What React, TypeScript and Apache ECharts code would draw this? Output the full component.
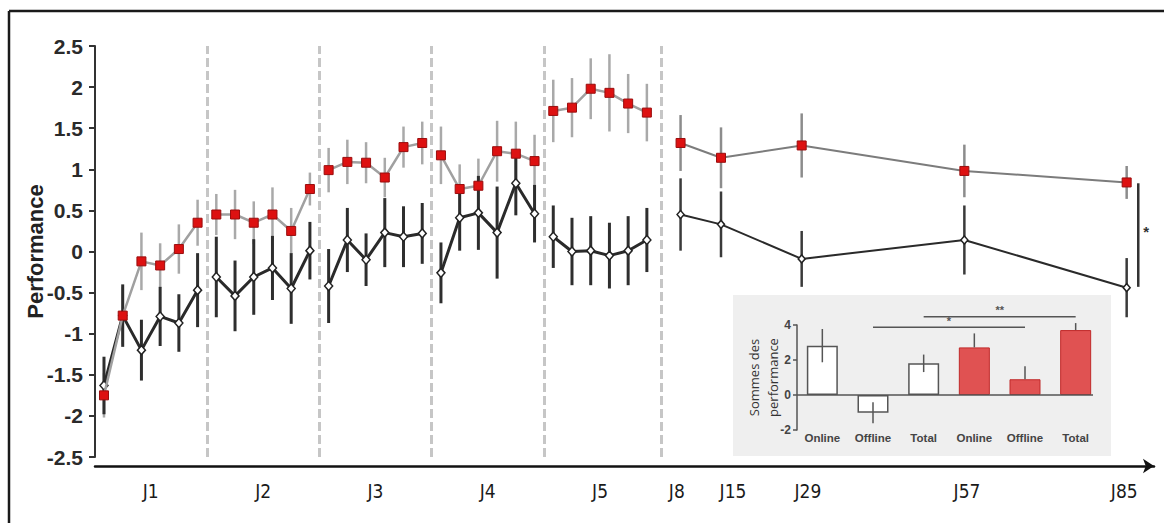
import React, { useEffect, useRef } from 'react';
import * as echarts from 'echarts';

// ---------- Main chart data ----------
// Training: 5 days (J1–J5), 6 blocks per day, block index 0..29
const trainDays = ['J1', 'J2', 'J3', 'J4', 'J5'];
const blocksPerDay = 6;
const redTrainMean = [
  -1.75, -0.78, -0.12, -0.17, 0.03, 0.35,
  0.45, 0.45, 0.35, 0.45, 0.25, 0.76,
  0.99, 1.09, 1.08, 0.9, 1.27, 1.32,
  1.17, 0.76, 0.8, 1.22, 1.19, 1.1,
  1.71, 1.75, 1.98, 1.93, 1.8, 1.69,
];
const redTrainErr = [
  0.27, 0.35, 0.35, 0.27, 0.3, 0.28,
  0.25, 0.3, 0.26, 0.33, 0.28, 0.2,
  0.27, 0.27, 0.25, 0.24, 0.25, 0.26,
  0.35, 0.3, 0.33, 0.37, 0.39, 0.32,
  0.38, 0.36, 0.37, 0.47, 0.36, 0.35,
];
const darkTrainMean = [
  -1.63, -0.78, -1.2, -0.79, -0.87, -0.47,
  -0.31, -0.54, -0.31, -0.2, -0.45, 0.01,
  -0.42, 0.14, -0.1, 0.23, 0.18, 0.22,
  -0.26, 0.41, 0.47, 0.23, 0.83, 0.46,
  0.18, 0.0, 0.01, -0.05, 0.01, 0.14,
];
const darkTrainErr = [
  0.35, 0.38, 0.37, 0.36, 0.35, 0.45,
  0.49, 0.43, 0.46, 0.39, 0.43, 0.35,
  0.45, 0.39, 0.32, 0.42, 0.37, 0.37,
  0.37, 0.4, 0.45, 0.56, 0.39, 0.35,
  0.38, 0.41, 0.42, 0.4, 0.42, 0.39,
];
// Follow-up sessions
const followDays = ['J8', 'J15', 'J29', 'J57', 'J85'];
const followPos = [30.8, 32.96, 37.27, 45.96, 54.63];
const redFollowMean = [1.32, 1.14, 1.29, 0.98, 0.84];
const redFollowErr = [0.34, 0.37, 0.39, 0.32, 0.2];
const darkFollowMean = [0.45, 0.33, -0.09, 0.14, -0.44];
const darkFollowErr = [0.44, 0.4, 0.34, 0.42, 0.36];

const dayBoundaries = [5.5, 11.5, 17.5, 23.5, 29.75];
const dayLabels = ['J1', 'J2', 'J3', 'J4', 'J5', ...followDays];
const dayLabelPos = [2.5, 8.5, 14.5, 20.5, 26.5, 30.6, 33.6, 37.6, 46.1, 54.5];

// Significance bracket at J85
const sigBracket = { x: 55.25, top: 0.83, bottom: -0.43, label: '*' };

// ---------- Inset data ----------
const insetCats = ['Online', 'Offline', 'Total', 'Online', 'Offline', 'Total'];
const insetMeans = [2.82, -1.01, 1.81, 2.72, 0.9, 3.71];
const insetErrs = [0.95, 0.6, 0.5, 0.8, 0.75, 0.4];
const insetRed = [false, false, false, true, true, true];
const insetSigFrom = [1, 2];
const insetSigTo = [4, 5];
const insetSigY = [3.87, 4.47];
const insetSigLabel = ['*', '**'];

const ARIAL = "'Liberation Sans', Arial, Helvetica, sans-serif";
const NARROW = "'Liberation Sans Narrow', 'DejaVu Sans Condensed', 'Liberation Sans', sans-serif";

function trainLine(means: number[]) {
  const out: any[] = [];
  for (let d = 0; d < trainDays.length; d++) {
    for (let k = 0; k < blocksPerDay; k++) {
      const i = d * blocksPerDay + k;
      out.push([i, means[i]]);
    }
    if (d < trainDays.length - 1) out.push([d * blocksPerDay + 5.5, '-']);
  }
  return out;
}

function errSeries(xs: number[], means: number[], errs: number[], color: string, width: number, z: number) {
  return {
    type: 'custom',
    xAxisIndex: 0,
    yAxisIndex: 0,
    z,
    silent: true,
    data: xs.map((x, i) => [x, means[i] - errs[i], means[i] + errs[i]]),
    encode: { x: 0, y: [1, 2] },
    renderItem: (_p: any, api: any) => {
      const a = api.coord([api.value(0), api.value(1)]);
      const b = api.coord([api.value(0), api.value(2)]);
      return {
        type: 'line',
        shape: { x1: a[0], y1: a[1], x2: b[0], y2: b[1] },
        style: { stroke: color, lineWidth: width },
      };
    },
  };
}

export default function App() {
  const ref = useRef<HTMLDivElement>(null);
  useEffect(() => {
    if (!ref.current) return;
    const chart = echarts.init(ref.current, null, { renderer: 'svg' });
    const trainX = redTrainMean.map((_, i) => i);

    const redSquare = {
      symbol: 'rect',
      symbolSize: 9,
      itemStyle: { color: '#dd1111', borderColor: '#9a0d0d', borderWidth: 1 },
    };
    const darkDiamond = {
      symbol: 'diamond',
      symbolSize: [8, 9],
      itemStyle: { color: '#ffffff', borderColor: '#222222', borderWidth: 1.5 },
    };

    const option: any = {
      animation: false,
      backgroundColor: '#ffffff',
      graphic: [
        { type: 'line', shape: { x1: 9, y1: 11, x2: 1164, y2: 11 }, style: { stroke: '#1a1a1a', lineWidth: 2.5 }, z: 1 },
        { type: 'line', shape: { x1: 9, y1: 11, x2: 9, y2: 523 }, style: { stroke: '#1a1a1a', lineWidth: 2.5 }, z: 1 },
        { type: 'rect', shape: { x: 733, y: 295, width: 378, height: 161 }, style: { fill: '#efefef' }, z: 0 },
      ],
      grid: [
        { left: 95, top: 46, width: 1059, height: 411, outerBoundsMode: 'none' },
        { left: 797, top: 325, width: 304, height: 105, outerBoundsMode: 'none' },
      ],
      xAxis: [
        {
          type: 'value',
          gridIndex: 0,
          min: -0.48,
          max: 56.09,
          offset: 9,
          splitLine: { show: false },
          axisTick: { show: false },
          axisLine: {
            show: true,
            onZero: false,
            symbol: ['none', 'arrow'],
            symbolSize: [11, 11],
            lineStyle: { color: '#111111', width: 2.5 },
          },
          axisLabel: {
            customValues: dayLabelPos,
            formatter: (v: number) => {
              let best = 0;
              for (let i = 0; i < dayLabelPos.length; i++) {
                if (Math.abs(dayLabelPos[i] - v) < Math.abs(dayLabelPos[best] - v)) best = i;
              }
              return dayLabels[best];
            },
            fontFamily: NARROW,
            fontSize: 19,
            color: '#1a1a1a',
            margin: 15,
          },
        },
        {
          type: 'category',
          gridIndex: 1,
          data: insetCats,
          axisLine: { show: false, onZero: false },
          axisTick: { show: false },
          axisLabel: { fontFamily: ARIAL, fontWeight: 'bold', fontSize: 11.5, color: '#444444', margin: 2, interval: 0 },
          splitLine: { show: false },
        },
        {
          type: 'value',
          gridIndex: 1,
          min: -0.5,
          max: 5.5,
          show: false,
          axisLine: { show: false, onZero: false },
        },
      ],
      yAxis: [
        {
          type: 'value',
          gridIndex: 0,
          min: -2.5,
          max: 2.5,
          interval: 0.5,
          name: 'Performance',
          nameLocation: 'middle',
          nameGap: 49,
          nameMoveOverlap: false,
          nameRotate: 90,
          nameTextStyle: { fontFamily: ARIAL, fontWeight: 'bold', fontSize: 22, color: '#222222' },
          splitLine: { show: false },
          axisLine: { show: true, onZero: false, lineStyle: { color: '#333333', width: 2 } },
          axisTick: { show: true, length: 6, lineStyle: { color: '#333333', width: 2 } },
          axisLabel: { fontFamily: ARIAL, fontWeight: 'bold', fontSize: 21, color: '#2a2a2a', margin: 12 },
        },
        {
          type: 'value',
          gridIndex: 1,
          min: -2,
          max: 4,
          interval: 2,
          name: 'Sommes des\nperformance',
          nameLocation: 'middle',
          nameGap: 15,
          nameMoveOverlap: false,
          nameRotate: 90,
          nameTextStyle: { fontFamily: "'Open Sans', 'Noto Sans', sans-serif", fontSize: 13, color: '#333333', lineHeight: 19 },
          splitLine: { show: false },
          axisLine: { show: true, onZero: false, lineStyle: { color: '#555555', width: 1.5 } },
          axisTick: { show: true, length: 4, lineStyle: { color: '#555555', width: 1.5 } },
          axisLabel: { fontFamily: ARIAL, fontWeight: 'bold', fontSize: 12, color: '#444444', margin: 6 },
        },
      ],
      series: [
        errSeries(trainX, redTrainMean, redTrainErr, '#a9a9a9', 2.5, 1),
        errSeries(followPos, redFollowMean, redFollowErr, '#8c8c8c', 2.5, 1),
        errSeries(trainX, darkTrainMean, darkTrainErr, '#2e2e2e', 3, 2),
        errSeries(followPos, darkFollowMean, darkFollowErr, '#3a3a3a', 2.5, 2),
        {
          type: 'line',
          xAxisIndex: 0,
          yAxisIndex: 0,
          z: 3,
          data: trainLine(darkTrainMean),
          connectNulls: false,
          lineStyle: { color: '#2a2a2a', width: 3 },
          ...darkDiamond,
        },
        {
          type: 'line',
          xAxisIndex: 0,
          yAxisIndex: 0,
          z: 3,
          data: followPos.map((x, i) => [x, darkFollowMean[i]]),
          lineStyle: { color: '#2a2a2a', width: 2 },
          ...darkDiamond,
          symbolSize: [7, 8],
        },
        {
          type: 'line',
          xAxisIndex: 0,
          yAxisIndex: 0,
          z: 4,
          data: trainLine(redTrainMean),
          connectNulls: false,
          lineStyle: { color: '#a0a0a0', width: 2.5 },
          ...redSquare,
          markLine: {
            silent: true,
            symbol: ['none', 'none'],
            label: { show: false },
            lineStyle: { color: '#c6c6c6', width: 3, type: [9, 4] },
            data: dayBoundaries.map((x) => ({ xAxis: x })),
          },
        },
        {
          type: 'line',
          xAxisIndex: 0,
          yAxisIndex: 0,
          z: 4,
          data: followPos.map((x, i) => [x, redFollowMean[i]]),
          lineStyle: { color: '#7c7c7c', width: 2 },
          ...redSquare,
        },
        {
          type: 'custom',
          xAxisIndex: 0,
          yAxisIndex: 0,
          z: 3,
          silent: true,
          data: [[sigBracket.x, sigBracket.top, sigBracket.bottom]],
          encode: { x: 0, y: [1, 2] },
          renderItem: (_p: any, api: any) => {
            const a = api.coord([api.value(0), api.value(1)]);
            const b = api.coord([api.value(0), api.value(2)]);
            return {
              type: 'group',
              children: [
                { type: 'line', shape: { x1: a[0], y1: a[1], x2: b[0], y2: b[1] }, style: { stroke: '#333333', lineWidth: 2.5 } },
                {
                  type: 'text',
                  x: a[0] + 8,
                  y: (a[1] + b[1]) / 2 - 4,
                  style: { text: sigBracket.label, fontFamily: ARIAL, fontWeight: 'bold', fontSize: 15, fill: '#333333', align: 'center', verticalAlign: 'middle' },
                },
              ],
            };
          },
        },
        // ---------- inset ----------
        {
          type: 'bar',
          xAxisIndex: 1,
          yAxisIndex: 1,
          z: 2,
          barWidth: 31,
          data: insetMeans.map((v, i) => ({
            value: v,
            itemStyle: insetRed[i]
              ? { color: '#e05252', borderColor: '#c02a2a', borderWidth: 1 }
              : { color: '#ffffff', borderColor: '#555555', borderWidth: 1.5 },
          })),
          markLine: {
            silent: true,
            symbol: ['none', 'none'],
            lineStyle: { color: '#555555', width: 1.5, type: 'solid' },
            label: { show: false },
            data: [[{ coord: [0, 0], x: 797 }, { coord: [5, 0], x: 1093 }]],
          },
        },
        {
          type: 'custom',
          xAxisIndex: 1,
          yAxisIndex: 1,
          z: 3,
          silent: true,
          data: insetMeans.map((v, i) => [i, v, insetErrs[i], insetRed[i] ? 1 : 0]),
          encode: { x: 0, y: 1 },
          renderItem: (_p: any, api: any) => {
            const i = api.value(0);
            const m = api.value(1);
            const e = api.value(2);
            const red = api.value(3) === 1;
            const sign = m >= 0 ? 1 : -1;
            const a = api.coord([i, red ? m : m - sign * e]);
            const b = api.coord([i, m + sign * e]);
            return {
              type: 'line',
              shape: { x1: a[0], y1: a[1], x2: b[0], y2: b[1] },
              style: { stroke: '#555555', lineWidth: 1.5 },
            };
          },
        },
        {
          type: 'custom',
          xAxisIndex: 2,
          yAxisIndex: 1,
          z: 3,
          silent: true,
          clip: false,
          data: insetSigY.map((y, k) => [insetSigFrom[k], insetSigTo[k], y, k]),
          encode: { x: [0, 1], y: 2 },
          renderItem: (_p: any, api: any) => {
            const k = api.value(3);
            const a = api.coord([api.value(0), api.value(2)]);
            const b = api.coord([api.value(1), api.value(2)]);
            return {
              type: 'group',
              children: [
                { type: 'line', shape: { x1: a[0], y1: a[1], x2: b[0], y2: b[1] }, style: { stroke: '#555555', lineWidth: 1.5 } },
                {
                  type: 'text',
                  x: (a[0] + b[0]) / 2,
                  y: a[1] - 1,
                  style: { text: insetSigLabel[k], fontFamily: ARIAL, fontWeight: 'bold', fontSize: 11, fill: '#555555', align: 'center', verticalAlign: 'bottom' },
                },
              ],
            };
          },
        },
      ],
    };
    chart.setOption(option);
    return () => chart.dispose();
  }, []);
  return <div ref={ref} style={{ position: 'fixed', left: 0, top: 0, width: 1164, height: 523, background: '#fff' }} />;
}
